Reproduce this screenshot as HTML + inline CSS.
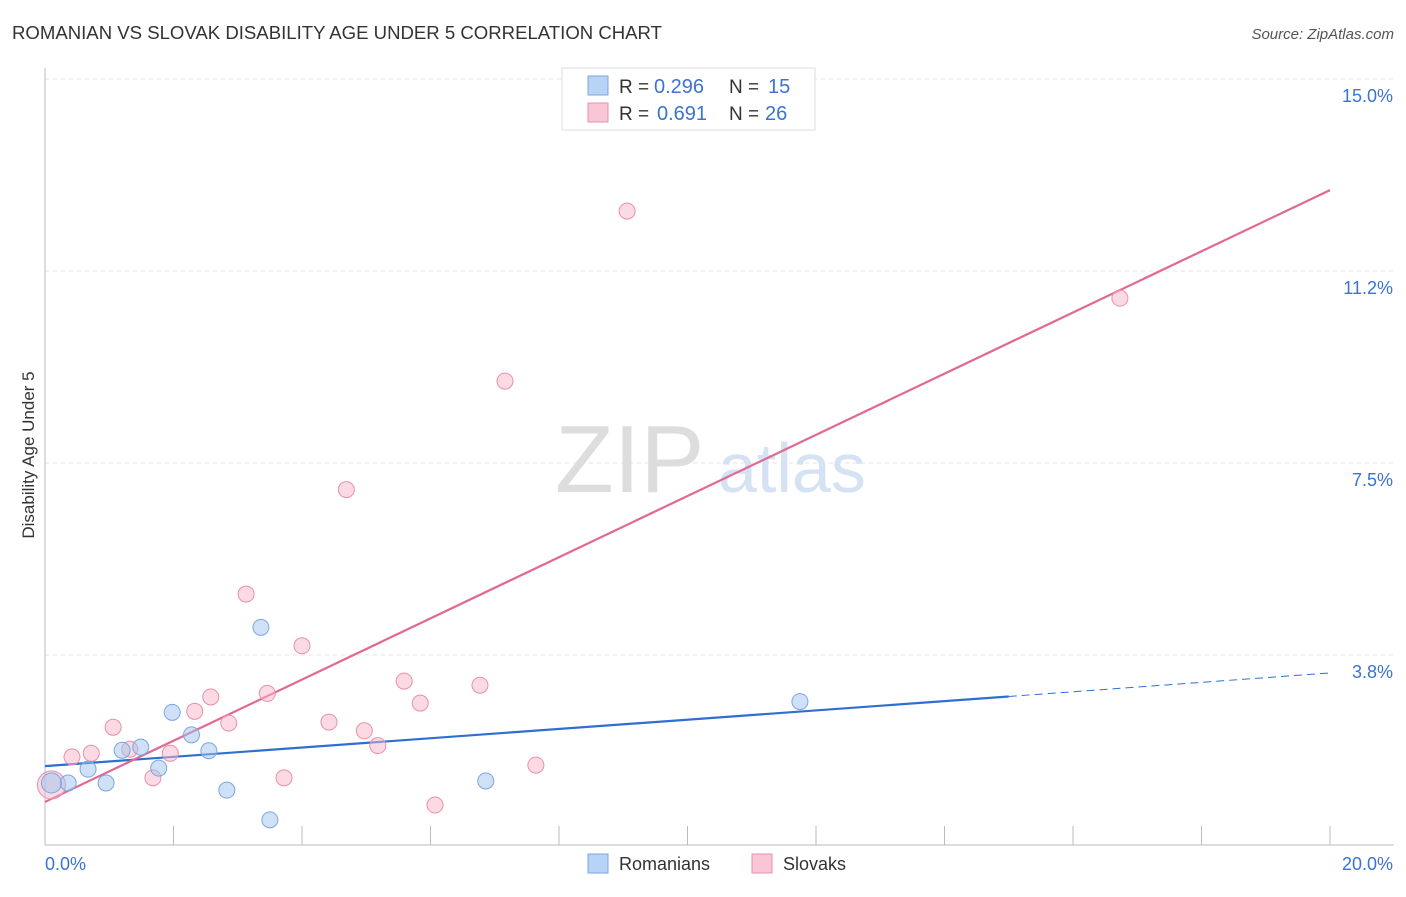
<!DOCTYPE html>
<html><head><meta charset="utf-8"><style>
body{margin:0;background:#fff;font-family:"Liberation Sans",sans-serif;}
svg text{font-family:"Liberation Sans",sans-serif;}
</style></head><body>
<svg width="1406" height="892" viewBox="0 0 1406 892">
<text x="12" y="39" font-size="18" fill="#333" textLength="650" lengthAdjust="spacingAndGlyphs">ROMANIAN VS SLOVAK DISABILITY AGE UNDER 5 CORRELATION CHART</text>
<text x="1394" y="39" font-size="15" fill="#555" text-anchor="end" font-style="italic">Source: ZipAtlas.com</text>
<g id="grid"></g>
<g id="axes"></g>
<text x="555" y="492" font-size="96" fill="#ddd" font-family="Liberation Serif">ZIP</text>
<text x="718" y="492" font-size="70" fill="#d4e2f4">atlas</text>
<text transform="translate(34,455) rotate(-90)" font-size="17" fill="#333" text-anchor="middle">Disability Age Under 5</text>
<g id="lines"></g>
<g id="points"></g>
<g>
<rect x="562" y="68" width="253" height="62" fill="#fff" stroke="#ddd"/>
<rect x="588" y="76" width="20" height="19" fill="#b8d3f5" stroke="#7aa6e0"/>
<rect x="588" y="103" width="20" height="19" fill="#f9c6d5" stroke="#e890aa"/>
<text x="619" y="93" font-size="19" fill="#333">R =</text>
<text x="654" y="93" font-size="20" fill="#3b73d1">0.296</text>
<text x="729" y="93" font-size="19" fill="#333">N =</text>
<text x="768" y="93" font-size="20" fill="#3b73d1">15</text>
<text x="619" y="120" font-size="19" fill="#333">R =</text>
<text x="657" y="120" font-size="20" fill="#3b73d1">0.691</text>
<text x="729" y="120" font-size="19" fill="#333">N =</text>
<text x="765" y="120" font-size="20" fill="#3b73d1">26</text>
</g>
<g>
<rect x="588" y="854" width="20" height="19" fill="#b8d3f5" stroke="#7aa6e0"/>
<text x="619" y="870" font-size="18" fill="#333">Romanians</text>
<rect x="752" y="854" width="20" height="19" fill="#f9c6d5" stroke="#e890aa"/>
<text x="783" y="870" font-size="18" fill="#333">Slovaks</text>
</g>
</svg>
<script>
const yTicks=[15,11.25,7.5,3.75];
const yTickLabels=["15.0%","11.2%","7.5%","3.8%"];
const romX=[0.36,0.67,0.95,1.2,1.49,1.77,1.98,2.28,2.55,2.83,3.36,3.5,6.86,11.75,0.1];
const romY=[1.25,1.52,1.25,1.89,1.95,1.54,2.63,2.19,1.88,1.11,4.29,0.53,1.29,2.84,1.25];
const slvX=[0.1,0.42,0.72,1.06,1.32,1.68,1.95,2.33,2.58,2.86,3.13,3.46,3.72,4.0,4.42,4.69,4.97,5.18,5.59,5.84,6.07,6.77,7.16,7.64,9.06,16.73];
const slvY=[1.21,1.76,1.83,2.34,1.91,1.35,1.83,2.65,2.93,2.42,4.94,3.0,1.35,3.93,2.44,6.98,2.27,1.98,3.24,2.81,0.82,3.16,9.1,1.6,12.42,10.72];
const romLine=[1.58,2.94,3.4];
const slvLine=[0.88,12.83];
const X=v=>45+v*64.25, Y=v=>847-v*51.2;
const NS="http://www.w3.org/2000/svg";
function mk(t,a,p){const e=document.createElementNS(NS,t);for(const k in a)e.setAttribute(k,a[k]);p.appendChild(e);return e;}
const grid=document.getElementById('grid'),axes=document.getElementById('axes');
yTicks.forEach((t,i)=>{
 const l=mk('line',{x1:45,x2:1394,y1:Y(t),y2:Y(t),stroke:'#e3e3e3','stroke-dasharray':'4,4'},grid);
 
 
 const tx=mk('text',{x:1393,y:Y(t)+23,'font-size':18,fill:'#3b73d1','text-anchor':'end'},axes);
 tx.textContent=yTickLabels[i];
 
 
});
mk('line',{x1:45,x2:45,y1:68,y2:845,stroke:'#bbb'},axes);
mk('line',{x1:45,x2:1394,y1:845,y2:845,stroke:'#bbb'},axes);
for(let i=1;i<=10;i++){const t=mk('line',{x1:X(i*2),x2:X(i*2),y1:826,y2:845,stroke:'#bbb'},axes);
 
 }
const xl0=mk('text',{x:45,y:870,'font-size':18,fill:'#3b73d1'},axes);xl0.textContent='0.0%';


const xl1=mk('text',{x:1393,y:870,'font-size':18,fill:'#3b73d1','text-anchor':'end'},axes);xl1.textContent='20.0%';


const lines=document.getElementById('lines'),pts=document.getElementById('points');
function dot(x,y,f,s,r){const c=mk('circle',{cx:X(x),cy:Y(y),r:r,fill:f,stroke:s,'stroke-width':1},pts);return c;}
slvX.forEach((x,i)=>{const c=dot(x,slvY[i],'rgba(248,182,202,0.5)','#e890aa',i==0?14:8);
 
 });
romX.forEach((x,i)=>{const c=dot(x,romY[i],'rgba(160,196,240,0.5)','#7aa6e0',i==14?10:8);
 
 });
const b1=mk('line',{x1:X(0),y1:Y(romLine[0]),x2:X(15),y2:Y(romLine[1]),stroke:'#2f6fd0','stroke-width':2.2},lines);


const b2=mk('line',{x1:X(15),y1:Y(romLine[1]),x2:X(20),y2:Y(romLine[2]),stroke:'#2f6fd0','stroke-width':1,'stroke-dasharray':'8,5'},lines);


const p1=mk('line',{x1:X(0),y1:Y(slvLine[0]),x2:X(20),y2:Y(slvLine[1]),stroke:'#e06893','stroke-width':2.2},lines);


</script>
</body></html>
